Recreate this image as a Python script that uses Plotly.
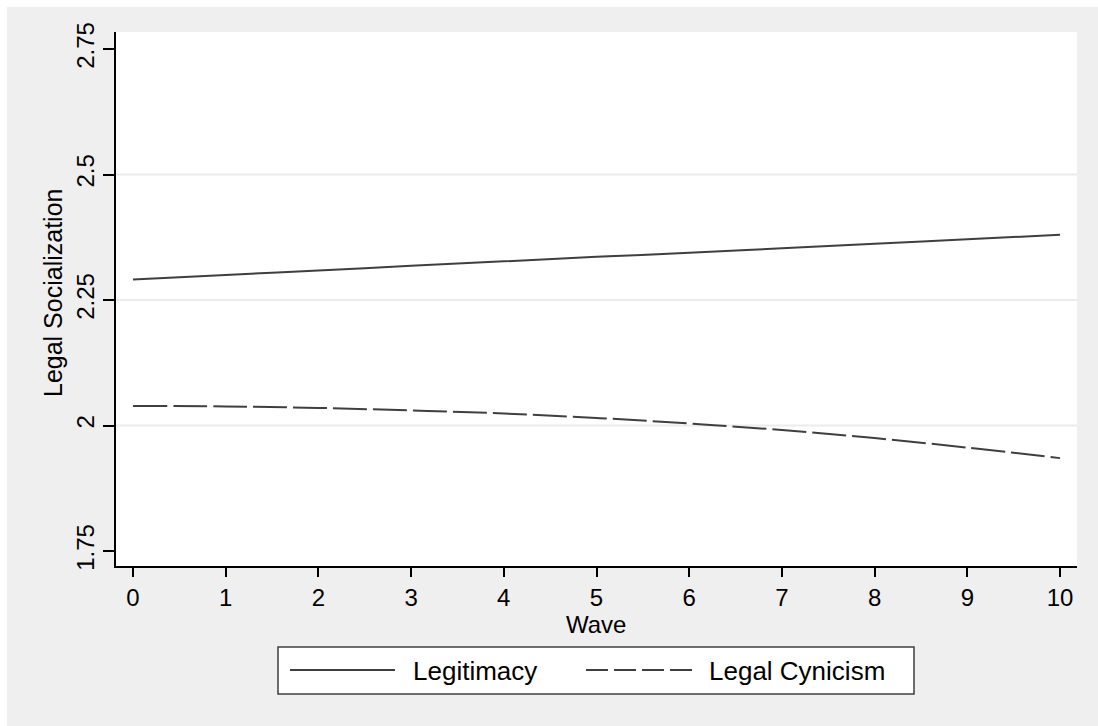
import plotly.graph_objects as go

# Predicted legal socialization scores by survey wave
waves = [0, 1, 2, 3, 4, 5, 6, 7, 8, 9, 10]
legitimacy = [2.291, 2.300, 2.309, 2.318, 2.327, 2.336, 2.344, 2.353, 2.362, 2.371, 2.380]
legal_cynicism = [2.039, 2.038, 2.035, 2.030, 2.024, 2.015, 2.004, 1.991, 1.975, 1.956, 1.935]

y_ticks = [1.75, 2.0, 2.25, 2.5, 2.75]
y_tick_text = ["1.75", "2", "2.25", "2.5", "2.75"]
grid_values = [2.0, 2.25, 2.5]
series_names = ["Legitimacy", "Legal Cynicism"]

# Canvas and plot-area geometry (pixels)
W, H = 1098, 726
L, R, T, B = 116, 1077, 32, 566
FONT = "Liberation Sans, Arial, Helvetica, sans-serif"
LINE_COLOR = "#3f3f3f"
BG = "#efefef"


def px(x):
    return (x - L) / (R - L)


def py(y):
    return (B - y) / (B - T)


fig = go.Figure()
fig.add_trace(go.Scatter(
    x=waves, y=legitimacy, mode="lines", name=series_names[0],
    line=dict(color=LINE_COLOR, width=2, shape="spline"),
    showlegend=False,
))
fig.add_trace(go.Scatter(
    x=waves, y=legal_cynicism, mode="lines", name=series_names[1],
    line=dict(color=LINE_COLOR, width=2, dash="34px,6px", shape="spline"),
    showlegend=False,
))

shapes = []
# thin white border on the top and left of the grey canvas
shapes.append(dict(type="rect", xref="paper", yref="paper", layer="below",
                   x0=px(0), x1=px(W), y0=py(7), y1=py(0),
                   fillcolor="white", line=dict(width=0)))
shapes.append(dict(type="rect", xref="paper", yref="paper", layer="below",
                   x0=px(0), x1=px(7), y0=py(H), y1=py(0),
                   fillcolor="white", line=dict(width=0)))
# horizontal grid lines at the inner ticks
for g in grid_values:
    shapes.append(dict(type="line", xref="paper", yref="y", layer="below",
                       x0=0, x1=1, y0=g, y1=g,
                       line=dict(color="#ececec", width=2)))
# legend box and samples
shapes.append(dict(type="rect", xref="paper", yref="paper",
                   x0=px(278), x1=px(914), y0=py(694), y1=py(647),
                   fillcolor="white", line=dict(color="#404040", width=1.5)))
shapes.append(dict(type="line", xref="paper", yref="paper",
                   x0=px(290), x1=px(395), y0=py(670), y1=py(670),
                   line=dict(color=LINE_COLOR, width=2)))
shapes.append(dict(type="line", xref="paper", yref="paper",
                   x0=px(586), x1=px(692), y0=py(670), y1=py(670),
                   line=dict(color=LINE_COLOR, width=2, dash="22px,6px")))

annotations = [
    dict(text=series_names[0], xref="paper", yref="paper", x=px(411), y=py(671),
         xanchor="left", yanchor="middle", showarrow=False,
         font=dict(family=FONT, size=26, color="black")),
    dict(text=series_names[1], xref="paper", yref="paper", x=px(707), y=py(671),
         xanchor="left", yanchor="middle", showarrow=False,
         font=dict(family=FONT, size=26, color="black")),
    dict(text="Wave", xref="paper", yref="paper", x=px(596), y=py(624),
         xanchor="center", yanchor="middle", showarrow=False,
         font=dict(family=FONT, size=24, color="black")),
    dict(text="Legal Socialization", xref="paper", yref="paper", x=px(53), y=py(293),
         xanchor="center", yanchor="middle", showarrow=False, textangle=-90,
         font=dict(family=FONT, size=25, color="black")),
]

fig.update_layout(
    width=W, height=H,
    margin=dict(l=L, r=W - R, t=T, b=H - B, pad=0),
    paper_bgcolor=BG, plot_bgcolor="white",
    font=dict(family=FONT, size=24, color="black"),
    shapes=shapes, annotations=annotations,
    showlegend=False,
)
fig.update_xaxes(
    range=[-0.183, 10.183], tickvals=waves, ticktext=[str(w) for w in waves],
    showgrid=False, zeroline=False,
    showline=True, linecolor="black", linewidth=1.5,
    ticks="outside", ticklen=9, tickwidth=1.5, tickcolor="black",
    tickfont=dict(family=FONT, size=24),
)
fig.update_yaxes(
    range=[1.7201, 2.7839], tickvals=y_ticks, ticktext=y_tick_text,
    tickangle=-90, showgrid=False, zeroline=False,
    showline=True, linecolor="black", linewidth=1.5,
    ticks="outside", ticklen=11, tickwidth=1.5, tickcolor="black",
    tickfont=dict(family=FONT, size=24),
)

fig.write_html("out.html")
